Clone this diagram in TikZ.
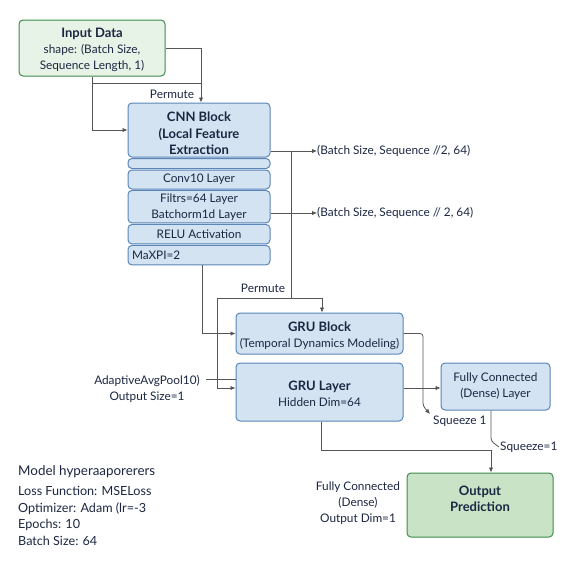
\documentclass[tikz,border=0pt]{standalone}
\usepackage{fontspec}
\setmainfont{Lato}
\usetikzlibrary{arrows.meta,calc}
\definecolor{txt}{HTML}{1B2742}
\definecolor{bluefill}{HTML}{D4E3F2}
\definecolor{bluebd}{HTML}{5A86B8}
\definecolor{greenfill}{HTML}{C8E3C5}
\definecolor{greenlight}{HTML}{E7F3E6}
\definecolor{greenbd}{HTML}{3E8B4C}
\definecolor{linec}{HTML}{555555}
\begin{document}
\begin{tikzpicture}[x=1pt,y=-1pt,
  every node/.style={text=txt},
  base/.style={font=\fontsize{11.8}{16}\selectfont},
  bbox/.style={base, draw=bluebd, fill=bluefill, rounded corners=4pt, line width=1pt, align=center, inner sep=0pt},
  gbox/.style={bbox, draw=greenbd, fill=greenfill},
  hd/.style={font=\fontsize{13}{16.5}\selectfont\bfseries},
  arr/.style={draw=linec, line width=0.8pt, -{Latex[length=5pt,width=4.5pt]}},
  ln/.style={draw=linec, line width=0.8pt},
  lbl/.style={base, inner sep=0pt},
  intext/.style={base, inner sep=0pt, align=center}]
\useasboundingbox (0,0) rectangle (576,576);
\fill[white] (0,0) rectangle (576,576);

% boxes
\node[gbox, fill=greenlight, minimum width=146pt, minimum height=56pt] (inp) at (92,48) {};
\node[intext] (inpT) at ([yshift=-2pt]inp.center)
  {{\fontsize{13}{16}\selectfont\bfseries Input Data}\\shape: (Batch Size,\\Sequence Length, 1)};
\node[bbox, minimum width=142pt, minimum height=54pt] (cnn) at (199,130) {};
\node[intext, hd] (cnnT) at ([yshift=-3.5pt]cnn.center) {CNN Block\\(Local Feature\\Extraction};
\node[bbox, minimum width=142pt, minimum height=10pt] (r0) at (199,163.5) {};
\node[bbox, minimum width=142pt, minimum height=19pt] (r1) at (199,179.5) {Conv10 Layer};
\node[bbox, minimum width=142pt, minimum height=32.5pt] (r2) at (199,206.7) {Filtrs=64 Layer\\Batchorm1d Layer};
\node[bbox, minimum width=142pt, minimum height=19.5pt] (r3) at (199,234.2) {RELU Activation};
\node[bbox, minimum width=142pt, minimum height=19.5pt, align=left, text width=134pt, inner xsep=4pt] (r4) at (199,255.2) {MaXPI=2};

\node[bbox, minimum width=167pt, minimum height=41pt] (gb) at (319.5,333.5) {};
\node[intext] (gbT) at ([yshift=-2pt]gb.center)
  {{\fontsize{13}{16}\selectfont\bfseries GRU Block}\\(Temporal Dynamics Modeling)};
\node[bbox, minimum width=167pt, minimum height=58pt] (gl) at (319.5,392) {};
\node[intext] (glT) at ([yshift=-1.5pt]gl.center)
  {{\fontsize{13}{16.5}\selectfont\bfseries GRU Layer}\\Hidden Dim=64};
\node[bbox, minimum width=109pt, minimum height=47pt] (fc) at (495.5,386.5)
  {Fully Connected\\(Dense) Layer};
\node[gbox, minimum width=146pt, minimum height=64pt] (out) at (480,505) {};
\node[intext, hd] (outT) at ([yshift=6pt]out.center) {Output\\Prediction};

% labels
\node[lbl] (perm1) at (172,94) {Permute};
\node[lbl] (perm2) at (263,288) {Permute};
\node[lbl, anchor=west] (shape1) at (317,151) {(Batch Size, Sequence //2, 64)};
\node[lbl, anchor=west] (shape2) at (317,213) {(Batch Size, Sequence // 2, 64)};
\node[lbl, align=center] (pool) at (147,389) {AdaptiveAvgPool10)\\Output Size=1};
\node[lbl, anchor=west] (sq1) at (433,421) {Squeeze 1};
\node[lbl, anchor=west] (sq2) at (500,447) {Squeeze=1};
\node[lbl, align=center] (fcl) at (358,503) {Fully Connected\\(Dense)\\Output Dim=1};
\node[lbl, anchor=north west, align=left, font=\fontsize{12.6}{16.6}\selectfont] (hyp) at (18,486)
  {Loss Function: MSELoss\\Optimizer: Adam (lr=-3\\Epochs: 10\\Batch Size: 64};
\node[lbl, anchor=west, font=\fontsize{13.4}{15}\selectfont] (hyph) at (18,472) {Model hyperaaporerers};

% connectors
\draw[arr] (inp.east) -| ([xshift=2pt]cnn.north);
\draw[arr] (inp.south) |- (cnn.west);
\draw[ln] (inp.south |- 0,83) -- (201,83);
\draw[ln] (cnn.east |- shape1) -- (291,151) -- (291,298);
\draw[arr] (291,151) -- (shape1.west);
\draw[arr] (r2.east |- shape2) -- (shape2.west);
\draw[ln] (217,298) -- (322,298);
\draw[arr] (322,298) -- (gb.north -| 322,0);
\draw[arr] ([xshift=3pt]r4.south) |- (gb.west);
\draw[arr] (217,298) -- (217,388) -- (gl.west |- 0,388);
\draw[ln] (206,379) -- (gl.west |- 0,379);
\draw[arr, rounded corners=3pt] (gb.east) -- (423,333.5) -- (423,406) -- (430,414);
\draw[arr] (gl.east |- 0,388) -- (fc.west |- 0,388);
\draw[ln, rounded corners=3pt] ([xshift=-4.5pt]fc.south) -- (491,441) -- (499,447);
\draw[ln] ([xshift=1.5pt]gl.south) -- (321,450) -- (491,450);
\draw[arr] (491,450) -- ([xshift=11pt]out.north);
\end{tikzpicture}
\end{document}
